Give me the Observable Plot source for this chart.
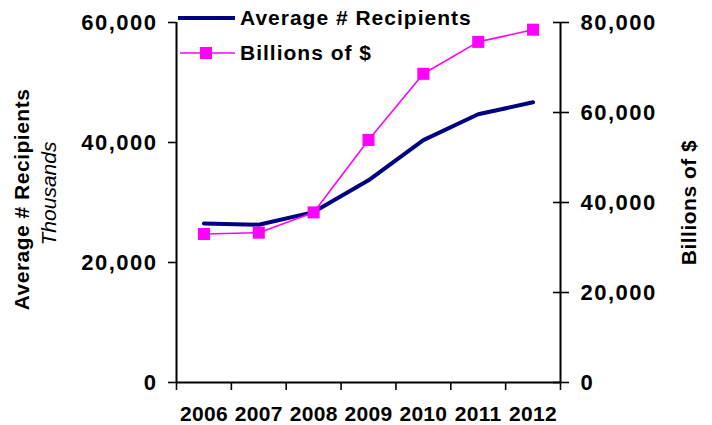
<!DOCTYPE html>
<html>
<head>
<meta charset="utf-8">
<script src="https://cdn.jsdelivr.net/npm/d3@7"></script>
<script src="https://cdn.jsdelivr.net/npm/@observablehq/plot@0.6"></script>
<style>
  html, body { margin: 0; padding: 0; background: #fff; }
  #wrap { position: relative; width: 712px; height: 425px; font-family: "Liberation Sans", Arial, sans-serif; }
  .lg { position: absolute; display: flex; align-items: center; font-weight: bold; font-size: 21px; letter-spacing: 1px; color: #000; height: 28px; }
  .lg svg { margin-right: 4px; }
  svg text { font-weight: bold; }
  g[aria-label="y-axis tick label"] text { letter-spacing: 1.5px; }
  g[aria-label="x-axis tick label"] text { letter-spacing: 0.3px; }
</style>
</head>
<body>
<div id="wrap"></div>
<script>
// ---- data ----
const years = [2006, 2007, 2008, 2009, 2010, 2011, 2012];
const recipients = [26500, 26300, 28400, 33700, 40400, 44700, 46700];   // left axis
const dollars = [33000, 33300, 37800, 53900, 68600, 75700, 78400];       // right axis
const leftTicks = [0, 20000, 40000, 60000];
const rightTicks = [0, 20000, 40000, 60000, 80000];
const seriesNames = ["Average # Recipients", "Billions of $"];
const leftTitle = "Average # Recipients";
const leftSubtitle = "Thousands";
const rightTitle = "Billions of $";

const leftMax = 60000, rightMax = 80000;
const ratio = leftMax / rightMax;
const fmt = d3.format(",");
const navy = "#000080", pink = "#FF00FF";

const recData = years.map((y, i) => ({year: y, v: recipients[i]}));
const dolData = years.map((y, i) => ({year: y, v: dollars[i] * ratio}));
const bounds = years.map(y => y - 0.5).concat([years[years.length - 1] + 0.5]);
const x0 = bounds[0], x1 = bounds[bounds.length - 1];

const chart = Plot.plot({
  width: 712,
  height: 425,
  marginLeft: 176,
  marginRight: 152,
  marginTop: 22,
  marginBottom: 43,
  style: {fontFamily: "'Liberation Sans', Arial, sans-serif", fontWeight: "bold", fontSize: "21px", color: "#000", background: "#fff", overflow: "visible"},
  x: {domain: [x0, x1], axis: null},
  y: {domain: [0, leftMax], axis: null},
  marks: [
    // left axis
    Plot.axisY(leftTicks, {anchor: "left", label: null, fontSize: 22, fontWeight: "bold", tickFormat: fmt, tickSize: 8, tickPadding: 11, strokeWidth: 1.6}),
    // right axis (crossing ticks)
    Plot.axisY(rightTicks.map(t => t * ratio), {anchor: "right", label: null, fontSize: 22, fontWeight: "bold", tickFormat: d => fmt(Math.round(d / ratio)), tickSize: 16, dx: -8, tickPadding: 12, strokeWidth: 1.6}),
    // category boundary ticks
    Plot.axisX(bounds, {anchor: "bottom", label: null, tickSize: 8, tickFormat: () => "", strokeWidth: 1.6}),
    // year labels
    Plot.axisX(years, {anchor: "bottom", label: null, fontSize: 21, fontWeight: "bold", tickSize: 0, tickPadding: 24, tickFormat: d => String(d)}),
    // axis lines
    Plot.ruleX([x0], {y1: 0, y2: leftMax, stroke: "#000", strokeWidth: 2}),
    Plot.ruleX([x1], {y1: 0, y2: leftMax, stroke: "#000", strokeWidth: 2}),
    Plot.ruleY([0], {x1: x0, x2: x1, stroke: "#000", strokeWidth: 2}),
    // series
    Plot.line(recData, {x: "year", y: "v", stroke: navy, strokeWidth: 4}),
    Plot.line(dolData, {x: "year", y: "v", stroke: pink, strokeWidth: 1.6}),
    Plot.dot(dolData, {x: "year", y: "v", symbol: "square", r: 6.8, fill: pink, stroke: null}),
    // axis titles
    Plot.text([leftTitle], {text: d => d, frameAnchor: "left", dx: -148, dy: -3, rotate: -90, lineAnchor: "bottom", textAnchor: "middle", fontSize: 21, fontWeight: "bold"}),
    Plot.text([leftSubtitle], {text: d => d, frameAnchor: "left", dx: -121, dy: -9, rotate: -90, lineAnchor: "bottom", textAnchor: "middle", fontSize: 21, fontWeight: "normal", fontStyle: "italic"}),
    Plot.text([rightTitle], {text: d => d, frameAnchor: "right", dx: 135, dy: 0, rotate: -90, lineAnchor: "bottom", textAnchor: "middle", fontSize: 21, fontWeight: "bold"})
  ]
});

const wrap = document.getElementById("wrap");
wrap.appendChild(chart);
chart.querySelectorAll("text").forEach(t => {
  if (t.textContent === leftSubtitle) t.style.fontWeight = "normal";
  if (t.textContent === leftTitle || t.textContent === rightTitle) t.style.letterSpacing = "0.5px";
});

// legend (HTML overlay)
const lg1 = document.createElement("div");
lg1.className = "lg";
lg1.style.left = "178px";
lg1.style.top = "4px";
lg1.innerHTML = `<svg width="58" height="28"><line x1="0" x2="57" y1="14" y2="14" stroke="${navy}" stroke-width="4"/></svg><span>${seriesNames[0]}</span>`;
wrap.appendChild(lg1);

const lg2 = document.createElement("div");
lg2.className = "lg";
lg2.style.left = "178px";
lg2.style.top = "39px";
lg2.innerHTML = `<svg width="58" height="28"><line x1="2" x2="57" y1="14" y2="14" stroke="${pink}" stroke-width="1.6"/><rect x="22" y="8" width="12" height="12" fill="${pink}"/></svg><span>${seriesNames[1]}</span>`;
wrap.appendChild(lg2);
</script>
</body>
</html>
